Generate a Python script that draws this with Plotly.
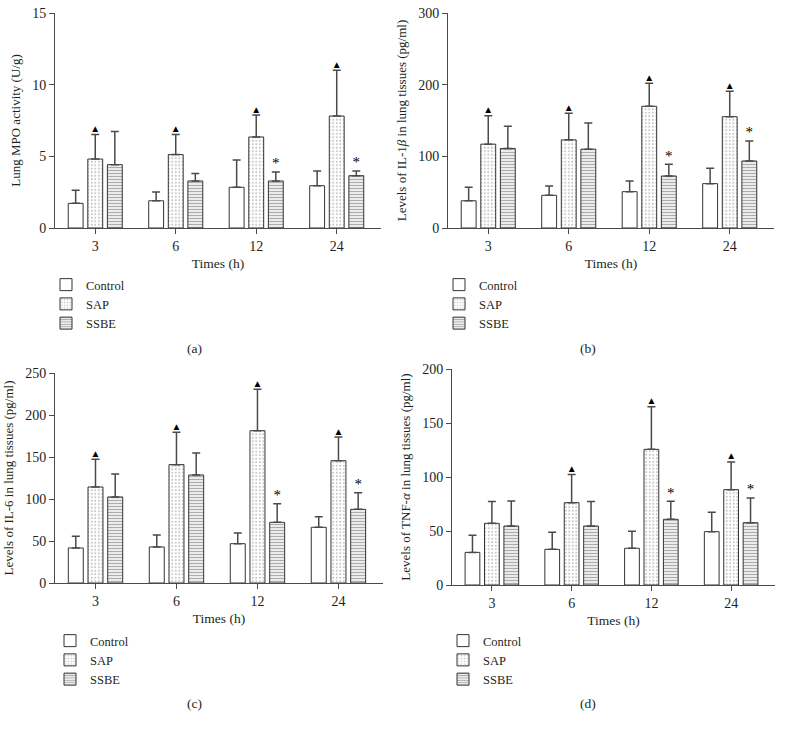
import plotly.graph_objects as go

times = ["3", "6", "12", "24"]
groups = ["Control", "SAP", "SSBE"]

# (a) Lung MPO activity
a_mean = {"Control": [1.72, 1.90, 2.84, 2.95], "SAP": [4.81, 5.12, 6.35, 7.81], "SSBE": [4.42, 3.28, 3.28, 3.65]}
a_sd = {"Control": [0.91, 0.61, 1.90, 1.03], "SAP": [1.72, 1.41, 1.53, 3.19], "SSBE": [2.32, 0.53, 0.62, 0.33]}
a_mark = {"Control": ["", "", "", ""], "SAP": ["▲", "▲", "▲", "▲"], "SSBE": ["", "", "*", "*"]}

# (b) IL-1beta
b_mean = {"Control": [38.0, 45.6, 50.7, 61.9], "SAP": [117.0, 123.0, 169.8, 155.3], "SSBE": [111.0, 110.0, 72.6, 93.5]}
b_sd = {"Control": [19.0, 13.0, 14.9, 21.4], "SAP": [39.7, 37.0, 32.1, 35.4], "SSBE": [31.0, 36.5, 16.2, 27.9]}
b_mark = {"Control": ["", "", "", ""], "SAP": ["▲", "▲", "▲", "▲"], "SSBE": ["", "", "*", "*"]}

# (c) IL-6
c_mean = {"Control": [41.7, 42.9, 46.8, 66.3], "SAP": [114.3, 140.9, 181.3, 145.6], "SSBE": [102.4, 128.6, 72.2, 87.7]}
c_sd = {"Control": [13.9, 14.2, 12.7, 12.7], "SAP": [32.9, 38.5, 49.3, 28.2], "SSBE": [27.4, 26.2, 22.2, 19.8]}
c_mark = {"Control": ["", "", "", ""], "SAP": ["▲", "▲", "▲", "▲"], "SSBE": ["", "", "*", "*"]}

# (d) TNF-alpha
d_mean = {"Control": [30.2, 33.0, 34.0, 49.4], "SAP": [57.1, 76.2, 125.6, 88.3], "SSBE": [54.6, 54.6, 60.8, 57.7]}
d_sd = {"Control": [15.8, 15.8, 15.7, 17.9], "SAP": [20.1, 26.0, 39.5, 25.6], "SSBE": [23.2, 22.6, 16.7, 22.9]}
d_mark = {"Control": ["", "", "", ""], "SAP": ["", "▲", "▲", "▲"], "SSBE": ["", "", "*", "*"]}

y_titles = ["Lung MPO activity (U/g)",
            "Levels of IL-1<i>β</i> in lung tissues (pg/ml)",
            "Levels of IL-6 in lung tissues (pg/ml)",
            "Levels of TNF-<i>α</i> in lung tissues (pg/ml)"]
y_ranges = [[0, 15], [0, 300], [0, 250], [0, 200]]
y_dticks = [5, 100, 50, 50]
captions = ["(a)", "(b)", "(c)", "(d)"]

panels = [(a_mean, a_sd, a_mark), (b_mean, b_sd, b_mark), (c_mean, c_sd, c_mark), (d_mean, d_sd, d_mark)]

W, H = 786, 729
def px_x(p): return p / W
def px_y(p): return 1 - p / H

# panel boxes in pixels: (x0, x1, ytop, ybottom)
boxes = [(55, 381, 13, 228), (448, 774, 13, 228), (55, 383, 373, 583), (452, 775, 369, 585)]
legend_pos = [(46, 270), (439, 270), (50, 626), (443, 626)]
caption_pos = [(194, 348), (588, 348), (194, 703), (588, 703)]

styles = {
    "Control": dict(color="white", pattern=dict(shape="")),
    "SAP": dict(color="white", pattern=dict(shape=".", fgcolor="#8a8a8a", bgcolor="white", size=3.5, solidity=0.25)),
    "SSBE": dict(color="white", pattern=dict(shape="-", fgcolor="#5a5a5a", bgcolor="white", size=3, solidity=0.5)),
}

FONT = "Liberation Serif"
INK = "#231f20"
LINE = "#4a4a4a"

fig = go.Figure()
layout = dict(
    width=W, height=H, margin=dict(l=0, r=0, t=0, b=0, pad=0, autoexpand=False),
    paper_bgcolor="white", plot_bgcolor="white",
    font=dict(family=FONT, size=13, color=INK),
    barmode="group", bargap=0.27, bargroupgap=0.24,
    scattermode="group", scattergap=0.27,
    annotations=[],
)

for i, (means, sds, marks) in enumerate(panels):
    n = "" if i == 0 else str(i + 1)
    xa, ya = "x" + n, "y" + n
    leg = "legend" + n
    for g in groups:
        st = styles[g]
        fig.add_trace(go.Bar(
            x=times, y=means[g], name=g, xaxis=xa, yaxis=ya, legend=leg,
            offsetgroup=g, alignmentgroup="a" + n,
            marker=dict(color=st["color"], pattern=st["pattern"], line=dict(color="#333333", width=1)),
            error_y=dict(type="data", array=sds[g], arrayminus=[0] * len(sds[g]), symmetric=False,
                         color=LINE, thickness=1.5, width=4),
            hoverinfo="skip",
        ))
    for g in groups:
        tops = [m + s for m, s in zip(means[g], sds[g])]
        size = 10 if "▲" in marks[g] else 15
        fig.add_trace(go.Scatter(
            x=times, y=tops, mode="text", text=marks[g], textposition="top center",
            textfont=dict(size=size, color="#000000", family=FONT),
            xaxis=xa, yaxis=ya, offsetgroup=g, alignmentgroup="s" + n,
            showlegend=False, hoverinfo="skip",
        ))
    x0, x1, yt, yb = boxes[i]
    layout["xaxis" + n] = dict(
        domain=[px_x(x0), px_x(x1)], anchor=ya, type="category", range=[-0.5, 3.55],
        showline=True, linecolor=LINE, linewidth=1, ticks="outside", ticklen=5,
        tickcolor=LINE, showgrid=False, zeroline=False, automargin=False,
        tickfont=dict(size=14, family=FONT, color=INK),
        title=dict(text="Times (h)", font=dict(size=13.5, family=FONT, color=INK), standoff=5),
    )
    layout["yaxis" + n] = dict(
        domain=[px_y(yb), px_y(yt)], anchor=xa, range=y_ranges[i], dtick=y_dticks[i],
        showline=True, linecolor=LINE, linewidth=1, ticks="outside", ticklen=5,
        tickcolor=LINE, showgrid=False, zeroline=False, automargin=False,
        tickfont=dict(size=14, family=FONT, color=INK),
        title=dict(text=y_titles[i], font=dict(size=13, family=FONT, color=INK), standoff=8),
    )
    lx, ly = legend_pos[i]
    layout[leg] = dict(
        x=px_x(lx), y=px_y(ly), xanchor="left", yanchor="top",
        bgcolor="rgba(0,0,0,0)", font=dict(size=12.5, family=FONT, color=INK),
        tracegroupgap=0, itemclick=False, itemdoubleclick=False,
    )
    cx, cy = caption_pos[i]
    layout["annotations"].append(dict(
        text=captions[i], x=px_x(cx), y=px_y(cy), xref="paper", yref="paper",
        xanchor="center", yanchor="middle",
        showarrow=False, font=dict(size=13.5, family=FONT, color=INK),
    ))

fig.update_layout(**layout)
fig.write_html("out.html", config={"displayModeBar": False},
               post_script="document.body.style.margin='0px';")
